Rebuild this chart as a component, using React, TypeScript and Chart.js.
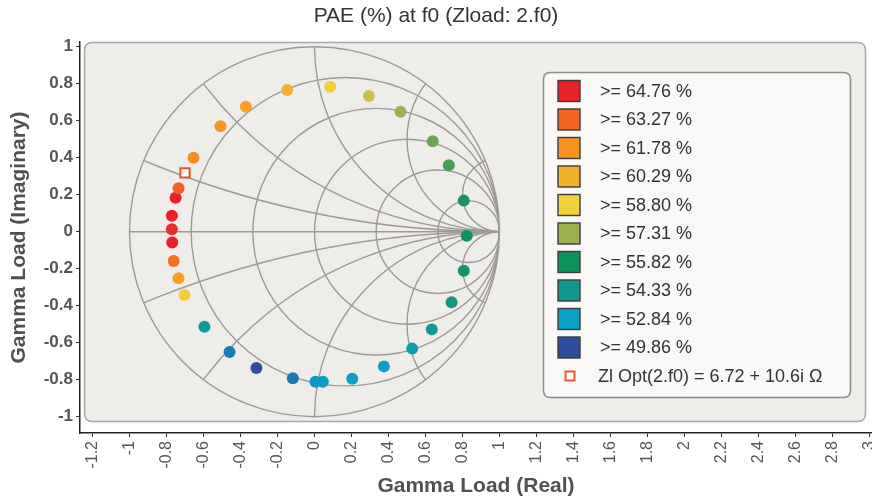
import React, { useEffect, useRef } from "react";
import { Chart, registerables } from "chart.js";

Chart.register(...registerables);

const FONT = "'Liberation Sans', Arial, sans-serif";

const chartTitle = "PAE (%) at f0 (Zload: 2.f0)";
const xAxisTitle = "Gamma Load (Real)";
const yAxisTitle = "Gamma Load (Imaginary)";

const xTickValues = [-1.2, -1, -0.8, -0.6, -0.4, -0.2, 0, 0.2, 0.4, 0.6, 0.8, 1, 1.2, 1.4, 1.6, 1.8, 2, 2.2, 2.4, 2.6, 2.8, 3];
const yTickValues = [-1, -0.8, -0.6, -0.4, -0.2, 0, 0.2, 0.4, 0.6, 0.8, 1];

const levelThresholds = [64.76, 63.27, 61.78, 60.29, 58.8, 57.31, 55.82, 54.33, 52.84, 49.86];
const levelColors = ["#e8212b", "#f26522", "#f7941d", "#f4b02c", "#f2d03c", "#9db050", "#0f935e", "#10998c", "#0aa0c8", "#2e4d9a"];

const gammaRe = [-0.703, -0.735, -0.761, -0.769, -0.771, -0.771, -0.751, -0.735, -0.654, -0.508, -0.371, -0.148, 0.085, 0.294, 0.465, 0.639, 0.726, 0.807, 0.823, 0.807, 0.741, 0.634, 0.528, 0.375, 0.204, 0.045, 0.005, -0.117, -0.314, -0.459, -0.595];
const gammaIm = [-0.342, -0.252, -0.158, -0.059, 0.013, 0.086, 0.184, 0.235, 0.4, 0.57, 0.676, 0.766, 0.784, 0.734, 0.649, 0.489, 0.359, 0.168, -0.022, -0.211, -0.382, -0.528, -0.632, -0.728, -0.795, -0.811, -0.811, -0.792, -0.737, -0.65, -0.514];
const paeValues = [58.9, 61.2, 62.9, 64.8, 64.4, 64.9, 64.8, 63.4, 62.0, 61.7, 61.1, 60.3, 58.9, 58.1, 57.3, 56.8, 56.4, 55.9, 55.8, 55.3, 54.8, 54.3, 53.6, 52.9, 52.9, 52.7, 52.6, 51.5, 49.9, 51.7, 54.0];

const optimumRe = [-0.7];
const optimumIm = [0.318];
const optimumLabel = "Zl Opt(2.f0) = 6.72 + 10.6i \u03A9";

const resistanceCircles = [0.2, 0.5, 1, 2, 5];
const reactanceArcs = [0.2, 0.5, 1, 2, 5];

function hexToRgb(h: string) {
  const n = parseInt(h.slice(1), 16);
  return [(n >> 16) & 255, (n >> 8) & 255, n & 255];
}

function colorFor(v: number) {
  if (v >= levelThresholds[0]) return levelColors[0];
  const last = levelThresholds.length - 1;
  if (v <= levelThresholds[last]) return levelColors[last];
  for (let i = 0; i < last; i++) {
    const a = levelThresholds[i];
    const b = levelThresholds[i + 1];
    if (v <= a && v >= b) {
      const t = (a - v) / (a - b);
      const ca = hexToRgb(levelColors[i]);
      const cb = hexToRgb(levelColors[i + 1]);
      const c = ca.map((x, k) => Math.round(x + (cb[k] - x) * t));
      return `rgb(${c[0]},${c[1]},${c[2]})`;
    }
  }
  return levelColors[last];
}

function roundRectPath(ctx: CanvasRenderingContext2D, x: number, y: number, w: number, h: number, r: number) {
  ctx.beginPath();
  ctx.moveTo(x + r, y);
  ctx.lineTo(x + w - r, y);
  ctx.quadraticCurveTo(x + w, y, x + w, y + r);
  ctx.lineTo(x + w, y + h - r);
  ctx.quadraticCurveTo(x + w, y + h, x + w - r, y + h);
  ctx.lineTo(x + r, y + h);
  ctx.quadraticCurveTo(x, y + h, x, y + h - r);
  ctx.lineTo(x, y + r);
  ctx.quadraticCurveTo(x, y, x + r, y);
  ctx.closePath();
}

const plotBackground = {
  id: "plotBackground",
  beforeDraw(chart: any) {
    const { ctx, chartArea } = chart;
    ctx.save();
    roundRectPath(ctx, chartArea.left + 4.5, chartArea.top + 0.5, chartArea.right - chartArea.left - 11, chartArea.bottom - chartArea.top - 12, 8);
    ctx.fillStyle = "#efedea";
    ctx.fill();
    ctx.strokeStyle = "#aaa7a4";
    ctx.lineWidth = 1.5;
    ctx.stroke();
    ctx.restore();
  },
};

const smithGrid = {
  id: "smithGrid",
  beforeDatasetsDraw(chart: any) {
    const { ctx, scales } = chart;
    const x = scales.x;
    const y = scales.y;
    const px = (v: number) => x.getPixelForValue(v);
    const py = (v: number) => y.getPixelForValue(v);
    const sx = px(1) - px(0);
    const sy = py(0) - py(1);
    const cx = px(0);
    const cy = py(0);
    ctx.save();
    ctx.strokeStyle = "#9d9999";
    ctx.lineWidth = 1.4;
    ctx.beginPath();
    ctx.ellipse(cx, cy, sx, sy, 0, 0, Math.PI * 2);
    ctx.clip();
    resistanceCircles.forEach((r) => {
      ctx.beginPath();
      ctx.ellipse(px(r / (1 + r)), cy, sx / (1 + r), sy / (1 + r), 0, 0, Math.PI * 2);
      ctx.stroke();
    });
    reactanceArcs.forEach((xv) => {
      [1, -1].forEach((s) => {
        ctx.beginPath();
        ctx.ellipse(px(1), py(s / xv), sx / xv, sy / xv, 0, 0, Math.PI * 2);
        ctx.stroke();
      });
    });
    ctx.beginPath();
    ctx.moveTo(px(-1), cy);
    ctx.lineTo(px(1), cy);
    ctx.stroke();
    ctx.restore();
    ctx.save();
    ctx.strokeStyle = "#9d9999";
    ctx.lineWidth = 1.4;
    ctx.beginPath();
    ctx.ellipse(cx, cy, sx, sy, 0, 0, Math.PI * 2);
    ctx.stroke();
    ctx.restore();
  },
};

const levelLegend = {
  id: "levelLegend",
  afterDraw(chart: any) {
    const { ctx } = chart;
    const bx = 543.5, by = 72.5, bw = 307, bh = 325;
    ctx.save();
    roundRectPath(ctx, bx, by, bw, bh, 7);
    ctx.fillStyle = "#f9f8f7";
    ctx.fill();
    ctx.strokeStyle = "#8f8c8a";
    ctx.lineWidth = 1.5;
    ctx.stroke();
    ctx.font = `18px ${FONT}`;
    ctx.textBaseline = "middle";
    ctx.textAlign = "left";
    const pitch = 28.5;
    levelThresholds.forEach((t, i) => {
      const cyRow = 91 + i * pitch;
      ctx.fillStyle = levelColors[i];
      ctx.fillRect(558, cyRow - 10.5, 22, 21);
      ctx.strokeStyle = "#3c3c3c";
      ctx.lineWidth = 1.4;
      ctx.strokeRect(558, cyRow - 10.5, 22, 21);
      ctx.fillStyle = "#333";
      ctx.fillText(`>= ${t.toFixed(2)} %`, 600, cyRow + 1);
    });
    const cyLast = 91 + levelThresholds.length * pitch;
    ctx.fillStyle = "#ffffff";
    ctx.fillRect(565.5, cyLast - 4.5, 9, 9);
    ctx.strokeStyle = "#f0542a";
    ctx.lineWidth = 2;
    ctx.strokeRect(565.5, cyLast - 4.5, 9, 9);
    ctx.fillStyle = "#333";
    ctx.fillText(optimumLabel, 598, cyLast + 1);
    ctx.restore();
  },
};

export default function App() {
  const canvasRef = useRef<HTMLCanvasElement | null>(null);

  useEffect(() => {
    const canvas = canvasRef.current;
    if (!canvas) return;
    const points = gammaRe.map((re, i) => ({ x: re, y: gammaIm[i] }));
    const chart = new Chart(canvas, {
      type: "scatter",
      data: {
        datasets: [
          {
            label: "PAE",
            data: points,
            pointRadius: 6,
            pointBorderWidth: 0,
            pointBackgroundColor: paeValues.map(colorFor),
            pointBorderColor: paeValues.map(colorFor),
          },
          {
            label: optimumLabel,
            data: optimumRe.map((re, i) => ({ x: re, y: optimumIm[i] })),
            pointStyle: "rect",
            pointRadius: 6.5,
            pointBorderWidth: 2,
            pointBackgroundColor: "#ffffff",
            pointBorderColor: "#e8502a",
          },
        ],
      },
      options: {
        animation: false,
        responsive: false,
        events: [],
        layout: { padding: 0, autoPadding: false },
        plugins: {
          legend: { display: false },
          tooltip: { enabled: false },
          title: {
            display: true,
            text: chartTitle,
            color: "#333",
            font: { family: FONT, size: 21, weight: "normal" },
            padding: { top: 4, bottom: 12.8 },
          },
        },
        scales: {
          x: {
            type: "linear",
            min: -1.2676,
            max: 3.0135,
            afterBuildTicks: (s: any) => {
              s.ticks = xTickValues.map((v) => ({ value: v }));
            },
            afterFit: (s: any) => {
              s.height = 70;
              s.paddingLeft = 0;
              s.paddingRight = 0;
            },
            ticks: {
              autoSkip: false,
              minRotation: 90,
              maxRotation: 90,
              padding: 4,
              color: "#555",
              font: { family: FONT, size: 16 },
              callback: (v: any) => String(v),
            },
            grid: { drawOnChartArea: false, drawTicks: true, tickLength: 4, color: "#333", lineWidth: 1 },
            border: { display: true, color: "#222", width: 1.5 },
            title: {
              display: true,
              text: xAxisTitle,
              color: "#505050",
              font: { family: FONT, size: 21, weight: "bold" },
              padding: { top: 0, bottom: 4.4 },
            },
          },
          y: {
            type: "linear",
            min: -1.0881,
            max: 1.0254,
            afterBuildTicks: (s: any) => {
              s.ticks = yTickValues.map((v) => ({ value: v }));
            },
            afterFit: (s: any) => {
              s.width = 80;
              s.paddingTop = 0;
              s.paddingBottom = 0;
            },
            ticks: {
              padding: 3,
              color: "#555",
              font: { family: FONT, size: 17, weight: "bold" },
              callback: (v: any) => String(v),
            },
            grid: { drawOnChartArea: false, drawTicks: true, tickLength: 4, color: "#333", lineWidth: 1 },
            border: { display: true, color: "#222", width: 1.5 },
            title: {
              display: true,
              text: yAxisTitle,
              color: "#505050",
              font: { family: FONT, size: 21, weight: "bold" },
              padding: { top: 7, bottom: 0 },
            },
          },
        },
      },
      plugins: [plotBackground, smithGrid, levelLegend],
    });
    return () => chart.destroy();
  }, []);

  return (
    <div style={{ position: "absolute", left: 0, top: 0, width: 872, height: 503, background: "#fff" }}>
      <canvas ref={canvasRef} width={872} height={503} style={{ display: "block" }} />
    </div>
  );
}
